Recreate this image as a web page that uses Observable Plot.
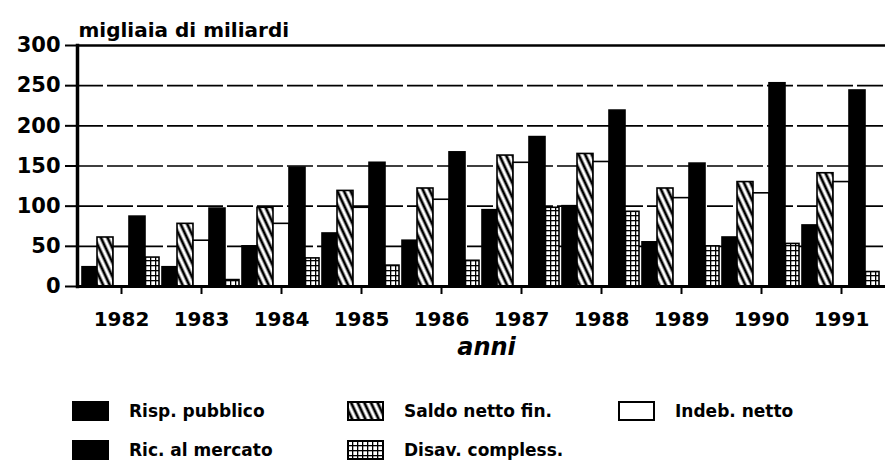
<!DOCTYPE html>
<html>
<head>
<meta charset="utf-8">
<script src="https://cdn.jsdelivr.net/npm/d3@7"></script>
<script src="https://cdn.jsdelivr.net/npm/@observablehq/plot@0.6"></script>
<style>
  html, body { margin: 0; padding: 0; background: #fff; }
  body { width: 887px; height: 462px; position: relative; overflow: hidden; font-family: "DejaVu Sans", sans-serif; }
  #chart svg { display: block; }
  #legend { position: absolute; left: 0; top: 400px; width: 887px; }
  .row { position: relative; height: 22px; margin-bottom: 17px; }
  .item { position: absolute; top: 0; display: flex; align-items: center; height: 22px;
          font-weight: bold; font-size: 17px; color: #000; white-space: nowrap; }
  .item svg { margin-right: 20px; display: block; }
</style>
</head>
<body>
<svg width="0" height="0" style="position:absolute">
  <defs>
    <pattern id="hatch" patternUnits="userSpaceOnUse" width="6" height="6" patternTransform="rotate(-25)">
      <rect width="6" height="6" fill="#fff"></rect>
      <line x1="3" y1="-1" x2="3" y2="7" stroke="#000" stroke-width="2.8"></line>
    </pattern>
    <pattern id="dots" patternUnits="userSpaceOnUse" width="5" height="5">
      <rect width="5" height="5" fill="#fff"></rect>
      <rect x="0" y="0" width="5" height="1.3" fill="#000"></rect>
      <rect x="0" y="0" width="1.3" height="5" fill="#000"></rect>
    </pattern>
  </defs>
</svg>
<div id="chart"></div>
<div id="legend"></div>
<script>
// ---- data ----
const years = ["1982", "1983", "1984", "1985", "1986", "1987", "1988", "1989", "1990", "1991"];
const seriesNames = ["Risp. pubblico", "Saldo netto fin.", "Indeb. netto", "Ric. al mercato", "Disav. compless."];
const rispPubblico  = [24, 24, 50, 66, 57, 95, 100, 55, 61, 76];
const saldoNettoFin = [61, 78, 98, 119, 122, 163, 165, 122, 130, 141];
const indebNetto    = [49, 57, 78, 98, 108, 154, 155, 110, 116, 130];
const ricMercato    = [87, 97, 148, 154, 167, 186, 219, 153, 253, 244];
const disavCompless = [36, 8, 35, 26, 32, 98, 93, 50, 53, 18];
const yTicks = [0, 50, 100, 150, 200, 250, 300];
const yTitle = "migliaia di miliardi";
const xTitle = "anni";

// ---- styling per series ----
const seriesValues = [rispPubblico, saldoNettoFin, indebNetto, ricMercato, disavCompless];
const fills = ["#000", "url(#hatch)", "#fff", "#000", "url(#dots)"];

const keys = [];
years.forEach(y => seriesNames.forEach(s => keys.push(y + "|" + s)));
const middleKeys = years.map(y => y + "|" + seriesNames[2]);

const barMarks = seriesNames.map((s, i) => {
  const rows = years.map((y, j) => ({key: y + "|" + s, value: seriesValues[i][j]}));
  return Plot.barY(rows, {
    x: "key", y: "value",
    fill: fills[i], stroke: "#000", strokeWidth: 1.6,
    insetLeft: i === 0 ? 1 : 0, insetRight: i === 4 ? 2 : 0
  });
});

const chart = Plot.plot({
  width: 887,
  height: 372,
  marginLeft: 77,
  marginRight: 2,
  marginTop: 45,
  marginBottom: 86,
  style: {fontFamily: "'DejaVu Sans', sans-serif", color: "#000", background: "#fff"},
  x: {type: "band", domain: keys, padding: 0},
  y: {domain: [0, 300]},
  marks: [
    Plot.ruleY(yTicks.filter(v => v > 0 && v < 300), {stroke: "#000", strokeWidth: 1.6, strokeDasharray: "26,4"}),
    Plot.ruleY([300], {stroke: "#000", strokeWidth: 2.5}),
    ...barMarks,
    Plot.ruleY([0], {stroke: "#000", strokeWidth: 3}),
    Plot.frame({anchor: "left", stroke: "#000", strokeWidth: 3.5}),
    Plot.axisY({ticks: yTicks, tickSize: 12, tickPadding: 5, strokeWidth: 2, fontSize: 21, fontWeight: "bold", label: null}),
    Plot.axisX(middleKeys, {tickSize: 8, tickPadding: 17, strokeWidth: 2, fontSize: 20, fontWeight: "bold",
      tickFormat: k => k.split("|")[0], label: null}),
    Plot.text([yTitle], {frameAnchor: "top-left", textAnchor: "start", dx: 1, dy: -23, fontSize: 20, fontWeight: "bold"}),
    Plot.text([xTitle], {frameAnchor: "bottom", dx: 5, dy: 68, fontSize: 24, fontWeight: "bold", fontStyle: "italic"})
  ]
});
document.getElementById("chart").appendChild(chart);

// ---- legend ----
const legendRows = [[0, 1, 2], [3, 4]];
const colLeft = [72, 347, 618];
const legend = document.getElementById("legend");
legendRows.forEach(r => {
  const row = document.createElement("div");
  row.className = "row";
  r.forEach((si, ci) => {
    const item = document.createElement("div");
    item.className = "item";
    item.style.left = colLeft[ci] + "px";
    item.innerHTML = `<svg width="37" height="20"><rect x="1" y="1" width="35" height="18" fill="${fills[si]}" stroke="#000" stroke-width="2"></rect></svg><span>${seriesNames[si]}</span>`;
    row.appendChild(item);
  });
  legend.appendChild(row);
});
</script>
</body>
</html>
